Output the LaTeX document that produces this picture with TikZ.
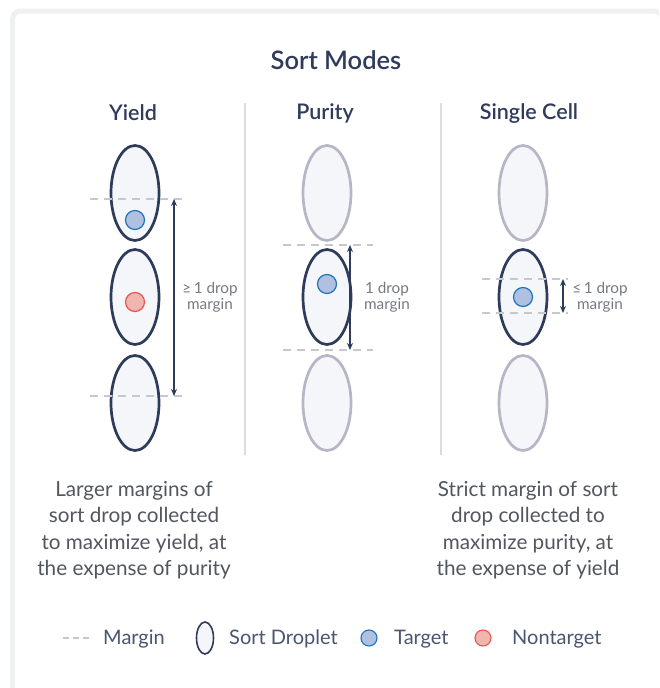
\documentclass[tikz,border=0pt]{standalone}
\usepackage{fontspec}
\setmainfont{Lato}[BoldFont={Lato Semibold}]
\usetikzlibrary{shapes.geometric,arrows.meta}
\definecolor{navy}{HTML}{2E3B5B}
\definecolor{lgray}{HTML}{B7B5C6}
\definecolor{dfill}{HTML}{F5F6FA}
\definecolor{dash}{HTML}{C5C9CF}
\definecolor{sep}{HTML}{D9DCE0}
\definecolor{frame}{HTML}{EEF0F1}
\definecolor{tfill}{HTML}{AFC0E0}
\definecolor{tline}{HTML}{1F74C0}
\definecolor{nfill}{HTML}{EEB6AF}
\definecolor{nline}{HTML}{E8574D}
\definecolor{txtgray}{HTML}{52575F}
\definecolor{lblgray}{HTML}{767A82}
\definecolor{legtxt}{HTML}{4A5570}
\tikzset{
  drop/.style={ellipse, draw=navy, line width=2.7pt, fill=dfill, minimum width=48pt, minimum height=95pt, inner sep=0pt},
  gdrop/.style={drop, draw=lgray},
  tgt/.style={circle, draw=tline, line width=1.2pt, fill=tfill, minimum size=19pt, inner sep=0pt},
  ntgt/.style={circle, draw=nline, line width=1.2pt, fill=nfill, minimum size=19pt, inner sep=0pt},
  mline/.style={draw=dash, line width=1.6pt, dash pattern=on 8pt off 6pt},
  marrow/.style={draw=navy, line width=1.5pt, {Stealth[length=7pt,width=6pt]}-{Stealth[length=7pt,width=6pt]}},
  lbl/.style={text=lblgray, font=\fontsize{15.3}{16}\selectfont, align=center},
  head/.style={text=navy, font=\fontsize{21.5}{23}\selectfont\bfseries},
  desc/.style={text=txtgray, font=\fontsize{20.7}{26.5}\selectfont, align=center},
  leg/.style={text=legtxt, font=\fontsize{20}{22}\selectfont, anchor=west, inner sep=0pt},
}
\begin{document}
\begin{tikzpicture}[x=1pt,y=-1pt]
\useasboundingbox (0,0) rectangle (659,688);
\begin{scope}
\clip (0,0) rectangle (659,688);
\fill[white] (0,0) rectangle (659,688);
\draw[frame, line width=5pt, rounded corners=8pt] (12.5,11) rectangle (662,700);
\end{scope}
% title
\node[text=navy, font=\fontsize{25.5}{27}\selectfont\bfseries] (title) at (336,60) {Sort Modes};
% headings
\node[head] (hy) at (133,113) {Yield};
\node[head] (hp) at (325,113) {Purity};
\node[head] (hs) at (529,113) {Single Cell};
% separators
\draw[sep, line width=1.2pt] (245,103) coordinate (s1a) -- (245,455) coordinate (s1b);
\draw[sep, line width=1.2pt] (441,103) coordinate (s2a) -- (441,455) coordinate (s2b);
% Yield column
\node[drop] (y1) at (135,193) {};
\node[drop] (y2) at (135,297) {};
\node[drop] (y3) at (135,403) {};
\node[tgt] (yt) at (135,220) {};
\node[ntgt] (yn) at (135,302) {};
\coordinate (ya1) at (90,199); \coordinate (ya2) at (182,199);
\coordinate (yb1) at (90,396); \coordinate (yb2) at (182,396);
\draw[mline] (ya1) -- (ya2);
\draw[mline] (yb1) -- (yb2);
\coordinate (yat) at (174,199); \coordinate (yab) at (174,396);
\draw[marrow] (yat) -- (yab);
\node[lbl] (yl) at (210,297) {≥\,1 drop\\margin};
% Purity column
\node[gdrop] (p1) at (327,193) {};
\node[gdrop] (p3) at (327,403) {};
\node[drop] (p2) at (327,297) {};
\node[tgt] (pt) at (327,284) {};
\coordinate (pa1) at (283,245); \coordinate (pa2) at (373,245);
\coordinate (pb1) at (283,350); \coordinate (pb2) at (373,350);
\draw[mline] (pa1) -- (pa2);
\draw[mline] (pb1) -- (pb2);
\coordinate (pat) at (350,245); \coordinate (pab) at (350,350);
\draw[marrow] (pat) -- (pab);
\node[lbl] (pl) at (387,297) {1 drop\\margin};
% Single cell column
\node[gdrop] (c1) at (523,193) {};
\node[gdrop] (c3) at (523,403) {};
\node[drop] (c2) at (523,297) {};
\node[tgt] (ct) at (523,297) {};
\coordinate (ca1) at (482,279); \coordinate (ca2) at (568,279);
\coordinate (cb1) at (482,313); \coordinate (cb2) at (568,313);
\draw[mline] (ca1) -- (ca2);
\draw[mline] (cb1) -- (cb2);
\coordinate (cat) at (563,279); \coordinate (cab) at (563,313);
\draw[marrow] (cat) -- (cab);
\node[lbl] (cl) at (600,297) {≤\,1 drop\\margin};
% descriptions
\node[desc] (dy) at (134,530) {Larger margins of\\sort drop collected\\to maximize yield, at\\the expense of purity};
\node[desc] (ds) at (528,530) {Strict margin of sort\\drop collected to\\maximize purity, at\\the expense of yield};
% legend
\coordinate (lm1) at (63,638); \coordinate (lm2) at (92,638);
\draw[mline, line width=1.4pt, dash pattern=on 6pt off 4pt] (lm1) -- (lm2);
\node[leg] (lmt) at (103,639) {Margin};
\node[drop, line width=1.6pt, minimum width=17pt, minimum height=32pt] (ld) at (205,638) {};
\node[leg] (ldt) at (229,639) {Sort Droplet};
\node[tgt, minimum size=16pt, line width=1.1pt] (lt) at (369,638) {};
\node[leg] (ltt) at (394,639) {Target};
\node[ntgt, minimum size=16pt, line width=1.1pt] (ln) at (483,638) {};
\node[leg] (lnt) at (512,639) {Nontarget};
\end{tikzpicture}
\end{document}
